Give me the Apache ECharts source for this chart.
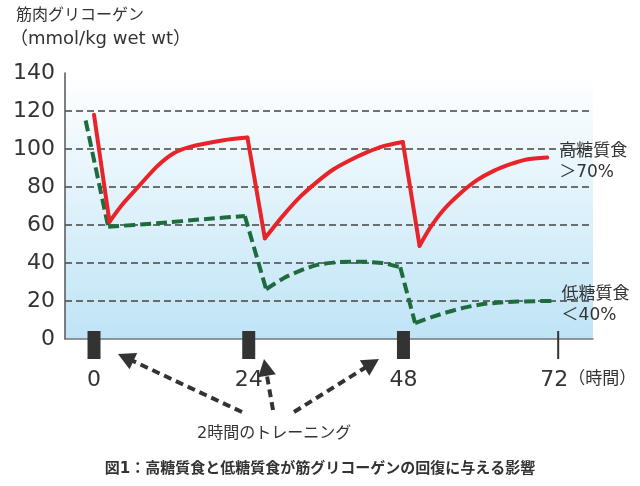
<!DOCTYPE html>
<html><head><meta charset="utf-8">
<script src="https://cdn.jsdelivr.net/npm/echarts@6/dist/echarts.min.js"></script>
<style>html,body{margin:0;padding:0;background:#fff}#c{width:640px;height:486px}</style>
</head><body><div id="c"></div>
<script>
// ---- data ----
var highCarb = [[0,118],[2.4,61.7],[4.55,71.4],[7.1,81],[9.7,90.6],[12.3,97.6],[14.9,101.1],[20.1,104.6],[23.8,106],
  [26.5,53],[29.4,65.2],[32,74.9],[34.6,82.7],[37.1,89.2],[39.7,94.1],[42.3,98.2],[44.9,101.5],[47.9,103.7],
  [50.5,49],[52.1,58.3],[54.2,67.9],[56.8,76.6],[59.4,83.6],[62,88.5],[64.6,92],[67.1,94.5],[70.3,95.5]];
var lowCarb = [[-1.3,115],[2.2,59.1],[9.7,60.9],[17.5,63.2],[23.4,64.7],
  [26.7,26.2],[29.4,32],[32,36],[34.6,39],[37.1,40.2],[39.7,40.7],[42.3,40.6],[44.9,39.9],[47.5,37.8],
  [49.8,8.4],[52.7,11.9],[55.2,14.5],[57.8,16.8],[60.4,18.4],[63,19.2],[65.6,19.7],[71.6,20.1]];
var trainingHours = [0, 24, 48];
var endHour = [72];
var xTicks = [0, 24, 48, 72];
var yTicks = [0, 20, 40, 60, 80, 100, 120, 140];
var highLabel = '高糖質食\n＞70%';
var lowLabel = '低糖質食\n＜40%';
var yTitle1 = '筋肉グリコーゲン';
var yTitle2 = '（mmol/kg wet wt）';
var caption = '図1：高糖質食と低糖質食が筋グリコーゲンの回復に与える影響';
var trainingText = '2時間のトレーニング';
var unitText = '（時間）';

var FONT = '"DejaVu Sans", "Noto Sans CJK JP", sans-serif';
var chart = echarts.init(document.getElementById('c'), null, {renderer: 'canvas'});

// split a curve into smooth recovery parts and straight drops
function segments(data) {
  var out = [], cur = [data[0]];
  for (var i = 1; i < data.length; i++) {
    if (data[i][1] < data[i - 1][1] - 15) {
      if (cur.length > 1) out.push({smooth: true, pts: cur});
      out.push({smooth: false, pts: [data[i - 1], data[i]]});
      cur = [data[i]];
    } else cur.push(data[i]);
  }
  if (cur.length > 1) out.push({smooth: true, pts: cur});
  return out;
}

function curveSeries(data, lineStyle, label, z) {
  var segs = segments(data);
  return segs.map(function (s, k) {
    var o = {type: 'line', data: s.pts, showSymbol: false, symbol: 'none',
      smooth: s.smooth ? 0.25 : false, lineStyle: lineStyle, z: z};
    if (k === segs.length - 1) o.endLabel = label;
    return o;
  });
}

function arrow(x1, y1, x2, y2) {
  var dx = x2 - x1, dy = y2 - y1, L = Math.sqrt(dx*dx + dy*dy);
  var ux = dx / L, uy = dy / L, hl = 17, hw = 9;
  var bx = x2 - ux*hl, by = y2 - uy*hl;
  return [
    {type: 'line', shape: {x1: x1, y1: y1, x2: bx + ux*2, y2: by + uy*2},
     style: {stroke: '#333', lineWidth: 4, lineDash: [8, 5]}},
    {type: 'polygon', shape: {points: [[x2, y2], [bx - uy*hw, by + ux*hw], [bx + uy*hw, by - ux*hw]]},
     style: {fill: '#333'}}
  ];
}

var series = [].concat(
  curveSeries(highCarb, {color: '#e8232a', width: 4, cap: 'round', join: 'round'},
    {show: true, formatter: highLabel, fontSize: 17, lineHeight: 21, color: '#333',
     fontFamily: FONT, distance: 12, offset: [0, 5]}, 5),
  curveSeries(lowCarb, {color: '#1e6b3e', width: 4, type: [11, 5]},
    {show: true, formatter: lowLabel, fontSize: 17, lineHeight: 21, color: '#333',
     fontFamily: FONT, distance: 6, offset: [0, 4]}, 4),
  [
    {type: 'custom', name: 'training', data: trainingHours.map(function (h) { return [h, 0]; }),
     clip: false, z: 10,
     renderItem: function (params, api) {
       var p = api.coord([api.value(0), api.value(1)]);
       return {type: 'rect', shape: {x: p[0] - 6.5, y: p[1] - 8, width: 13, height: 28},
         style: {fill: '#333'}};
     }},
    {type: 'custom', name: 'end', data: endHour.map(function (h) { return [h, 0]; }),
     clip: false, z: 10,
     renderItem: function (params, api) {
       var p = api.coord([api.value(0), api.value(1)]);
       return {type: 'line', shape: {x1: p[0], y1: p[1] - 8, x2: p[0], y2: p[1] + 20},
         style: {stroke: '#333', lineWidth: 2}};
     }}
  ]
);

var option = {
  animation: false,
  textStyle: {fontFamily: FONT},
  title: [
    {text: yTitle1, left: 11, top: 3,
     textStyle: {fontSize: 16, fontWeight: 'normal', color: '#333', fontFamily: FONT}},
    {text: yTitle2, left: 5, top: 25,
     textStyle: {fontSize: 18, fontWeight: 'normal', color: '#333', fontFamily: FONT}},
    {text: caption, left: 'center', top: 457,
     textStyle: {fontSize: 15, fontWeight: 'bold', color: '#333', fontFamily: FONT}},
    {text: trainingText, left: 192, top: 421,
     textStyle: {fontSize: 16, fontWeight: 'normal', color: '#333', fontFamily: FONT}}
  ],
  grid: {left: 65, right: 47, top: 73, bottom: 147, show: true, borderWidth: 0,
    backgroundColor: {type: 'linear', x: 0, y: 0, x2: 0, y2: 1,
      colorStops: [{offset: 0, color: '#ffffff'}, {offset: 1, color: '#bfe4f6'}]}},
  xAxis: {
    type: 'value', min: -4.5, max: 77.4,
    axisLine: {show: true, onZero: false, lineStyle: {color: '#777', width: 1.5}},
    axisTick: {show: false},
    splitLine: {show: false},
    axisLabel: {
      customValues: xTicks, margin: 30, fontSize: 22, color: '#333', fontFamily: FONT,
      formatter: function (v) {
        return v === 72 ? '{pad|}{n|72}{u|' + unitText + '}' : '{n|' + v + '}';
      },
      rich: {
        n: {fontSize: 22, color: '#333', fontFamily: FONT},
        u: {fontSize: 17, color: '#333', fontFamily: FONT, width: 68},
        pad: {width: 60}
      }
    }
  },
  yAxis: {
    type: 'value', min: 0, max: 140, interval: 20,
    axisLine: {show: true, onZero: false, lineStyle: {color: '#555', width: 1.5}},
    axisTick: {show: false},
    splitLine: {show: true, showMaxLine: false, showMinLine: false,
      lineStyle: {color: '#444', width: 1.5, type: [7, 4]}},
    axisLabel: {fontSize: 22, color: '#333', margin: 10, fontFamily: FONT,
      customValues: yTicks}
  },
  series: series
};
chart.setOption(option);

var g = [].concat(
  arrow(242, 412, 118, 354),
  arrow(273, 410, 264, 359),
  arrow(294, 412, 379, 359)
);
chart.setOption({graphic: g});
</script></body></html>
